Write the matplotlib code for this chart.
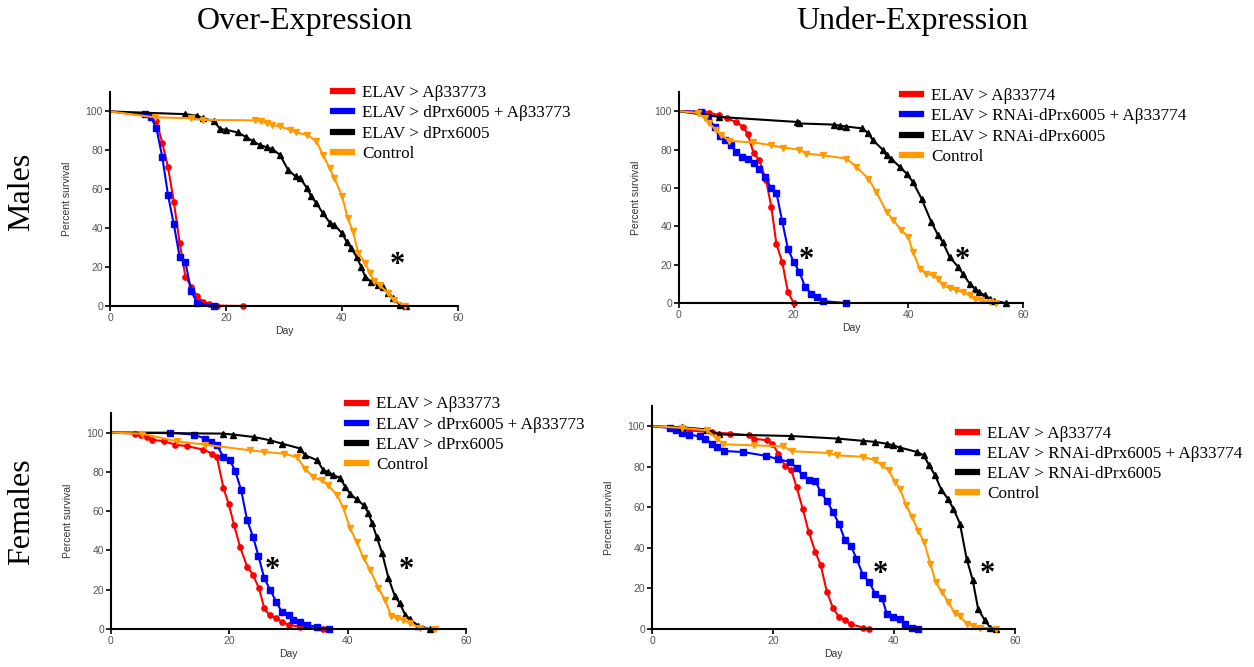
import matplotlib.pyplot as plt
from matplotlib.lines import Line2D

# colours of the four groups
c_ab = "#ff0000"
c_both = "#0000ff"
c_prx = "#000000"
c_ctl = "#ff9a00"

# --- Males, over-expression ---
mo_ab_day = [0, 7, 8, 9, 10, 11, 12, 13, 14, 15, 16, 17, 18.4, 23]
mo_ab_pct = [100, 97.5, 95, 84, 71.4, 53.7, 32.6, 15.1, 10, 5.1, 2.2, 0.9, 0.2, 0]
mo_both_day = [0, 6, 7, 8, 9, 10, 11, 12, 13, 14, 15, 18]
mo_both_pct = [100, 98.6, 97.4, 91.4, 76.8, 57.1, 42, 25.4, 22.5, 7.7, 1.7, 0]
mo_prx_day = [0, 13, 15, 16, 18, 19, 20, 22, 23.5, 24.7, 25.8, 27, 28, 29.3, 30.7, 32,
              32.7, 34, 34.7, 35.6, 36.7, 38, 38.7, 40, 40.8, 41.6, 42.5, 43.3, 44, 45,
              46.2, 47, 48, 48.8, 50, 51]
mo_prx_pct = [100, 98.6, 97.8, 96.6, 94.9, 90.9, 90.6, 89.2, 86.8, 84.6, 82.8, 81.6, 80.6,
              77.7, 70, 66.6, 66, 60.5, 56.3, 52.8, 47.7, 42.5, 41.7, 37.4, 33.1, 29.7,
              25.4, 20.2, 15.1, 12.5, 10.8, 9.6, 6.5, 3.9, 0.5, 0]
mo_ctl_day = [0, 7.7, 14, 16, 25, 26, 27, 28, 29.3, 31, 32, 34, 35.6, 36.7, 37.9, 38.7,
              40, 41, 41.9, 42.8, 44, 44.8, 45.6, 46.5, 48, 49, 50.8]
mo_ctl_pct = [100, 97, 96.5, 95.7, 95.4, 94.9, 94, 93.1, 92.3, 90.6, 89.2, 88, 84.6, 77.7,
              70.8, 65.7, 56.6, 45.1, 38.3, 27.1, 22.3, 16.8, 12.9, 10.6, 6.5, 3.1, 0]

# --- Males, under-expression ---
mu_ab_day = [0, 4.2, 5.3, 7, 8.3, 10, 11.2, 12, 13, 14, 15.2, 16.1, 17, 18, 19, 20]
mu_ab_pct = [100, 99.7, 99.1, 97.9, 96.2, 94.4, 91.8, 88, 78.3, 74.4, 64, 50.1, 30.6,
             21.4, 5.7, 0]
mu_both_day = [0, 3.9, 5.1, 6.2, 7.1, 8.1, 9.1, 10, 11, 12, 13.1, 14, 15, 16.1, 17, 18,
               19, 20, 21, 22, 23.1, 24.1, 25.1, 29.1]
mu_both_pct = [100, 99.7, 97, 91.8, 87, 84.9, 82.3, 78.8, 76.2, 75.3, 73, 70.1, 65.7, 59.7,
               57.4, 42.6, 28.3, 21.4, 16.2, 8.3, 4.9, 3.1, 1, 0]
mu_prx_day = [0, 7, 20.5, 21, 27, 28, 29.2, 32, 33, 33.8, 35.5, 36.2, 37, 38.5, 39.7, 40.8,
              42.3, 44, 45.2, 46, 47.2, 48.7, 49.5, 50.7, 51.6, 52.4, 53.3, 54.2, 55, 57]
mu_prx_pct = [100, 97, 94.4, 93.6, 93, 92.5, 92, 91, 88.5, 85, 80, 77, 75.3, 71, 67.5,
              63.1, 54.4, 42.3, 35.3, 31.8, 24, 18.8, 15.3, 10.1, 7.5, 5.7, 4, 2.3, 1, 0]
mu_ctl_day = [0, 3.3, 4.5, 5.3, 6.5, 7.4, 8.8, 12.9, 16.1, 18.1, 21, 22.2, 25.1, 29.2,
              30.9, 33, 34.4, 36.2, 37.4, 38.8, 40, 40.8, 42, 43.1, 44.3, 45.2, 46, 47.2,
              48.4, 49.5, 50.7, 51.6, 52.7, 54.2, 55.3]
mu_ctl_pct = [100, 99.1, 96.2, 93.6, 90.1, 87.5, 84.5, 83.7, 82.3, 81, 80, 77.9, 77, 75.3,
              71, 64.9, 57.9, 47.5, 43.1, 37.9, 34.4, 26.6, 17.9, 15.3, 14.4, 12.7, 9.2,
              7.8, 6.6, 5.7, 4, 2.3, 1.4, 0.5, 0]

# --- Females, over-expression ---
fo_ab_day = [0, 4.1, 5, 6.1, 6.9, 8.9, 10.9, 12.8, 15.6, 17.1, 17.9, 19, 19.9, 20.8, 21.8,
             23, 24, 25, 25.9, 26.8, 27.9, 28.9, 30, 32, 35.9]
fo_ab_pct = [100, 99.5, 99, 97.8, 96.4, 95.6, 93.9, 93.1, 91.4, 89.3, 87.6, 71.9, 63.6, 53,
             42, 31.8, 27.6, 20.8, 10.7, 6.9, 5.6, 3.6, 2.2, 1, 0]
fo_both_day = [0, 10, 14, 15.9, 16.9, 17.9, 19, 20.1, 21, 22, 23, 24, 24.9, 25.9, 26.9,
               27.9, 28.9, 30, 30.8, 32, 33.1, 34.8, 36.9]
fo_both_pct = [100, 100, 99, 97, 95.3, 93.6, 87.6, 86, 80.4, 70.7, 55.5, 47, 37.4, 25.9, 20,
               14, 8.5, 7.3, 4.7, 3.4, 2.2, 1, 0]
fo_prx_day = [0, 19, 20.7, 24.1, 26.9, 28.9, 32, 32.8, 34.8, 35.9, 36.7, 37.6, 38.7, 39.6,
              40.4, 41.5, 42.7, 43.5, 44.1, 44.9, 45.8, 46.9, 48, 48.8, 49.7, 50.5, 51.9,
              53.9]
fo_prx_pct = [100, 99.5, 99, 97.8, 96.1, 94.4, 91.9, 88.5, 86, 80.9, 80, 78.3, 77, 72.4, 69,
              66, 63.1, 59.2, 54.1, 47, 38.9, 25.9, 16.6, 13.2, 7.3, 5.1, 1.7, 0]
fo_ctl_day = [0, 5.2, 11.1, 15.9, 23.5, 25.8, 29.2, 31.4, 32.8, 34.2, 35.6, 36.7, 38.2,
              39.3, 40.4, 41.5, 42.7, 43.8, 45.2, 46.3, 47.4, 48.3, 49.4, 50.5, 52.2, 54.8]
fo_ctl_pct = [100, 99.5, 95.6, 93.9, 91, 90.2, 89.3, 87.6, 81.7, 77.2, 75.8, 73.3, 68.2,
              61.4, 51.3, 44.5, 36, 30.1, 20.8, 14.9, 6.4, 5.6, 4.7, 3, 0.5, 0]

# --- Females, under-expression ---
fu_ab_day = [0, 4.7, 6.1, 9.9, 12.9, 16, 16.8, 19, 19.9, 20.9, 22, 23, 23.9, 24.9, 25.9,
             27, 27.9, 28.9, 29.9, 30.9, 31.9, 32.9, 34.9, 35.9]
fu_ab_pct = [100, 99.2, 98, 97, 96.4, 95.6, 93.9, 93.1, 91.4, 86.5, 80.4, 78.6, 70, 59.4,
             47.9, 38, 31.4, 18.3, 10.5, 5.9, 4.3, 2.3, 0.7, 0]
fu_both_day = [0, 2.9, 4, 5, 6.1, 8, 8.8, 9.9, 10.8, 11.9, 15, 18.9, 20.9, 22.8, 23.9, 24.9,
               26, 27, 27.9, 28.9, 29.9, 30.9, 31.9, 32.9, 33.8, 34.9, 35.9, 36.9, 38,
               38.8, 39.9, 41, 41.8, 42.9, 43.9]
fu_both_pct = [100, 99.2, 98, 96.9, 95.9, 95, 93.9, 91.4, 89.8, 87.8, 87.3, 85.4, 83.7,
               82.4, 79.4, 75.8, 73.4, 72.9, 67.6, 63.2, 57.7, 52, 43.8, 40.8, 34.7, 26.5,
               23.2, 17.4, 15.5, 7.6, 5.9, 5.1, 2.6, 0.7, 0]
fu_prx_day = [0, 5, 9.1, 11, 23, 30.8, 34.9, 36.9, 38.8, 39.9, 41, 43.8, 44.9, 45.8, 46.8,
              47.8, 48.9, 49.8, 50.9, 52, 53, 53.9, 55, 55.9, 56.9]
fu_prx_pct = [100, 99.5, 98.4, 96, 95.2, 93.9, 92.8, 92.3, 91.4, 90.6, 89.5, 87.3, 85.7,
              80.8, 75.8, 68.8, 64.3, 59.4, 52, 34.7, 24.3, 10, 4.3, 0.7, 0]
fu_ctl_day = [0, 5, 9.1, 10.7, 11.8, 16.8, 21.7, 23.1, 29.2, 30.5, 34.9, 36.9, 38, 39.1,
              40.2, 41, 42, 43, 44, 45, 46, 46.9, 47.9, 49, 50, 50.9, 52, 53, 54.2, 56.9]
fu_ctl_pct = [100, 99.2, 98, 93.9, 91.1, 90.6, 90.1, 87.7, 86.8, 85.7, 84.9, 83.2, 80.8,
              78.3, 72.5, 69.2, 61, 55.3, 48.4, 42.9, 32.2, 23.2, 18.3, 13.3, 7.9, 6.3, 2.6,
              1.6, 0.7, 0]

over_labels = ["ELAV > Aβ33773", "ELAV > dPrx6005 + Aβ33773", "ELAV > dPrx6005", "Control"]
under_labels = ["ELAV > Aβ33774", "ELAV > RNAi-dPrx6005 + Aβ33774", "ELAV > RNAi-dPrx6005",
                "Control"]

# significance stars (day, percent)
mo_stars = [(49.5, 21)]
mu_stars = [(22.3, 22), (49.5, 22)]
fo_stars = [(27.2, 30), (49.9, 30)]
fu_stars = [(37.7, 27), (55.5, 27)]

W, H = 1254, 667
fig = plt.figure(figsize=(W / 100, H / 100), dpi=100)
serif = "Liberation Serif"
sans = "Liberation Sans"


def px_axes(left, top, right, bottom):
    return fig.add_axes([left / W, 1 - bottom / H, (right - left) / W, (bottom - top) / H])


def panel(ax, series, stars, labels, leg_xy, ylab_pad):
    markers = ["o", "s", "^", "v"]
    colors = [c_ab, c_both, c_prx, c_ctl]
    for (d, p), m, c in zip(series, markers, colors):
        ax.plot(d, p, color=c, lw=1.5, marker=m, ms=3.8, markevery=slice(1, None),
                clip_on=False)
    ax.set_xlim(0, 60)
    ax.set_ylim(0, 110)
    ax.set_xticks([0, 20, 40, 60])
    ax.set_yticks([0, 20, 40, 60, 80, 100])
    for s in ["top", "right"]:
        ax.spines[s].set_visible(False)
    for s in ["left", "bottom"]:
        ax.spines[s].set_linewidth(1.5)
    ax.tick_params(length=3.5, width=1.2, labelsize=7.5, labelcolor="#555555", pad=1.5)
    for t in ax.get_xticklabels() + ax.get_yticklabels():
        t.set_fontfamily(sans)
    ax.set_xlabel("Day", fontsize=7.5, family=sans, color="#333333", labelpad=2)
    ax.set_ylabel("Percent survival", fontsize=7.5, family=sans, color="#333333",
                  labelpad=ylab_pad)
    for sx, sy in stars:
        ax.text(sx, sy, "*", fontsize=22, family=serif, ha="center", va="center",
                fontweight="bold")
    handles = [Line2D([], [], color=c, lw=4.5) for c in colors]
    ax.legend(handles, labels, loc="upper left", bbox_to_anchor=(leg_xy[0] / W, 1 - leg_xy[1] / H),
              bbox_transform=fig.transFigure, frameon=False, borderpad=0, borderaxespad=0,
              handlelength=1.1, handletextpad=0.6, labelspacing=0.25,
              prop={"family": serif, "size": 12.3})


ax1 = px_axes(110, 92, 458, 306)
panel(ax1, [(mo_ab_day, mo_ab_pct), (mo_both_day, mo_both_pct),
            (mo_prx_day, mo_prx_pct), (mo_ctl_day, mo_ctl_pct)],
      mo_stars, over_labels, (333, 85), 10)

ax2 = px_axes(679, 92, 1023, 303)
panel(ax2, [(mu_ab_day, mu_ab_pct), (mu_both_day, mu_both_pct),
            (mu_prx_day, mu_prx_pct), (mu_ctl_day, mu_ctl_pct)],
      mu_stars, under_labels, (902, 88), 10)

ax3 = px_axes(111, 413, 466, 629)
panel(ax3, [(fo_ab_day, fo_ab_pct), (fo_both_day, fo_both_pct),
            (fo_prx_day, fo_prx_pct), (fo_ctl_day, fo_ctl_pct)],
      fo_stars, over_labels, (347, 396.5), 10)

ax4 = px_axes(652, 406, 1015, 629)
panel(ax4, [(fu_ab_day, fu_ab_pct), (fu_both_day, fu_both_pct),
            (fu_prx_day, fu_prx_pct), (fu_ctl_day, fu_ctl_pct)],
      fu_stars, under_labels, (958, 425.5), 10)

fig.text(305 / W, 1 - 21 / H, "Over-Expression", family=serif, fontsize=23,
         ha="center", va="center")
fig.text(912 / W, 1 - 21 / H, "Under-Expression", family=serif, fontsize=23,
         ha="center", va="center")
fig.text(22 / W, 1 - 192 / H, "Males", family=serif, fontsize=23, rotation=90,
         ha="center", va="center")
fig.text(22 / W, 1 - 512 / H, "Females", family=serif, fontsize=23, rotation=90,
         ha="center", va="center")

fig.savefig("out.png", dpi=100)
